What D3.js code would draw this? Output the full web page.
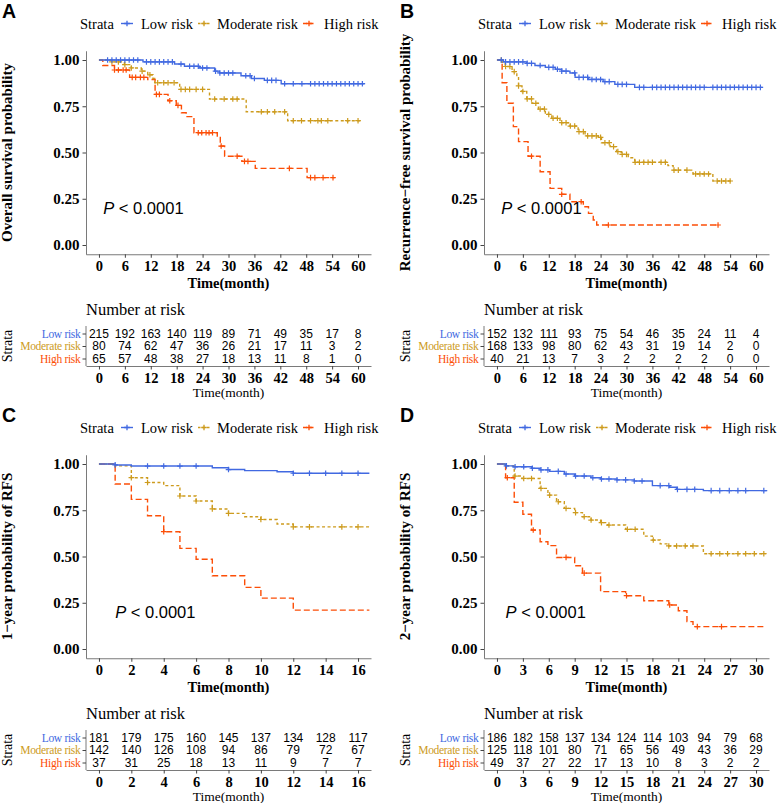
<!DOCTYPE html>
<html><head><meta charset="utf-8">
<script src="https://cdn.jsdelivr.net/npm/d3@7"></script>
<style>body{margin:0;background:#fff}svg{display:block}</style>
</head><body><svg id="c" width="777" height="803"></svg>
<script>
// ---------- DATA ----------
const strata = ["Low risk", "Moderate risk", "High risk"];
const panelLetters = ["A", "B", "C", "D"];
const yTitles = ["Overall survival probability", "Recurrence\u2212free survival probability",
                 "1\u2212year probability of RFS", "2\u2212year probability of RFS"];
const pText = "< 0.0001";
const yTicks = [0, 0.25, 0.5, 0.75, 1];

const ticksA = [0, 6, 12, 18, 24, 30, 36, 42, 48, 54, 60];
const ticksB = [0, 6, 12, 18, 24, 30, 36, 42, 48, 54, 60];
const ticksC = [0, 2, 4, 6, 8, 10, 12, 14, 16];
const ticksD = [0, 3, 6, 9, 12, 15, 18, 21, 24, 27, 30];

// Number at risk
const riskA_low = [215, 192, 163, 140, 119, 89, 71, 49, 35, 17, 8];
const riskA_mod = [80, 74, 62, 47, 36, 26, 21, 17, 11, 3, 2];
const riskA_high = [65, 57, 48, 38, 27, 18, 13, 11, 8, 1, 0];
const riskB_low = [152, 132, 111, 93, 75, 54, 46, 35, 24, 11, 4];
const riskB_mod = [168, 133, 98, 80, 62, 43, 31, 19, 14, 2, 0];
const riskB_high = [40, 21, 13, 7, 3, 2, 2, 2, 2, 0, 0];
const riskC_low = [181, 179, 175, 160, 145, 137, 134, 128, 117];
const riskC_mod = [142, 140, 126, 108, 94, 86, 79, 72, 67];
const riskC_high = [37, 31, 25, 18, 13, 11, 9, 7, 7];
const riskD_low = [186, 182, 158, 137, 134, 124, 114, 103, 94, 79, 68];
const riskD_mod = [125, 118, 101, 80, 71, 65, 56, 49, 43, 36, 29];
const riskD_high = [49, 37, 27, 22, 17, 13, 10, 8, 3, 2, 2];

// Kaplan-Meier steps [time, survival]
const survA_low = [[0,1],[10.2,0.99],[17.5,0.978],[19.8,0.966],[23.2,0.957],[26.8,0.94],[27.9,0.93],[32.9,0.915],[35.3,0.90],[38.3,0.89],[42.2,0.872],[61.5,0.872]];
const survA_mod = [[0,1],[2.9,0.99],[5.9,0.975],[7.5,0.957],[9.8,0.94],[11.3,0.92],[12.5,0.90],[12.9,0.877],[18.7,0.841],[25.6,0.789],[34.1,0.72],[43.7,0.672],[60.7,0.672]];
const survA_high = [[0,1],[0.9,0.97],[3.6,0.946],[7.1,0.906],[11.3,0.895],[13.0,0.814],[16.0,0.78],[17.9,0.755],[19.1,0.715],[20.2,0.694],[22.0,0.607],[27.4,0.582],[28.1,0.535],[29.1,0.48],[33.1,0.452],[36.2,0.414],[48.2,0.364],[54.6,0.364]];
const survB_low = [[0,1],[1.5,0.99],[6.9,0.982],[8.8,0.97],[11.2,0.96],[13.5,0.95],[15,0.94],[16.9,0.93],[18.1,0.906],[21.2,0.895],[24.6,0.883],[27.3,0.868],[31.9,0.852],[61.5,0.852]];
const survB_mod = [[0,1],[1.2,0.987],[1.9,0.965],[3.5,0.937],[4.6,0.91],[5.0,0.86],[5.8,0.83],[6.9,0.79],[8.1,0.766],[9.6,0.735],[11.2,0.706],[12.7,0.685],[14.6,0.661],[16.9,0.643],[18.8,0.613],[20.4,0.59],[23.5,0.582],[24.2,0.553],[26.2,0.532],[27.7,0.505],[28.8,0.49],[30.4,0.472],[31.9,0.447],[39.6,0.429],[40.8,0.405],[45.4,0.384],[50,0.346],[54.2,0.346]];
const survB_high = [[0,1],[1.2,0.877],[2.3,0.766],[3.8,0.64],[5,0.559],[7.2,0.48],[10,0.396],[12.3,0.306],[15,0.274],[16.9,0.234],[20,0.207],[21.2,0.171],[22.3,0.135],[23.1,0.108],[51.2,0.108]];
const survC_low = [[0,1],[1,0.995],[2,0.989],[7,0.98],[8,0.97],[9,0.964],[11,0.958],[12,0.95],[16.7,0.95]];
const survC_mod = [[0,1],[1,0.99],[2,0.926],[3,0.9],[4,0.883],[5,0.827],[6,0.8],[7,0.757],[8,0.733],[9,0.715],[10,0.7],[11,0.676],[12,0.66],[16.7,0.66]];
const survC_high = [[0,1],[1,0.892],[2,0.809],[3,0.72],[4,0.634],[5,0.544],[6,0.485],[7,0.396],[9,0.333],[10,0.275],[12,0.21],[16.7,0.21]];
const survD_low = [[0,1],[1,0.99],[1.9,0.985],[4,0.977],[5,0.968],[6.1,0.96],[7.8,0.946],[9,0.935],[10.9,0.926],[12,0.919],[13.9,0.914],[15.9,0.908],[18,0.883],[20,0.874],[20.8,0.863],[23.9,0.856],[31.3,0.856]];
const survD_mod = [[0,1],[1,0.99],[2,0.935],[2.9,0.922],[5,0.868],[5.9,0.832],[6.9,0.796],[7.8,0.76],[9,0.737],[9.9,0.715],[10.9,0.697],[12,0.683],[12.8,0.67],[14.9,0.647],[17,0.61],[18,0.589],[18.9,0.568],[19.9,0.557],[23.9,0.515],[31.1,0.515]];
const survD_high = [[0,1],[1,0.926],[2,0.793],[3,0.728],[4,0.643],[5,0.58],[5.9,0.559],[6.9,0.495],[9,0.45],[9.9,0.41],[12,0.31],[14.9,0.288],[17,0.261],[19.9,0.238],[21,0.207],[22,0.148],[22.7,0.121],[31.1,0.121]];

// censoring times
const censA_low = [2,3,4,5,6,7,8,9,11,12,13,14,15,16,17,19,21,22,23,24,25,27,28,29,30,31,34,35,36,39,40,41,43,45,47,49,50,51,52,53,54,55,56,57,58,59,60,61];
const censA_mod = [3,4.5,6,7.5,10,11.8,13.6,15,16,17.4,19,20,21,22.5,24,26.8,29,31,32,37.6,39,40.7,43,45,46.9,49,50.7,51.5,53,57.6,60];
const censA_high = [3.6,4.5,5.6,6.3,7.7,8.5,9.6,10.4,13.3,14,16.4,18.3,23,23.8,24.8,25.5,26.3,28.3,32,33.7,34.5,44.1,49,50,51.9,54.2];
const censB_low = [1,2,3,4,5,6,7,8,10,12,13,14,15,16,18,19,20,21,22,23,24,25,26,28,29,30,33,34,36,37,38,39,40,41,42,43,44,45,46,47,48,50,51,52,53,54,55,56,57,58,59,60,61];
const censB_mod = [1,2,3,4,5,6,7,8,9,10,11,12,13,14,15,16,17,18,19,20,21,22,23,24,25,26,27,28,29,30,32,33,34,35,36,38,39,41,42,44,46,47,48,49,51,52,53,54];
const censB_high = [8,15,19.5,25.8,51.2];
const censC_low = [1,3,4,5,6,8,12,13,14,15,16];
const censC_mod = [2,3,5,6,7,8,10,12,13,15,16];
const censC_high = [4];
const censD_low = [1.1,2.1,3.1,4.1,5.1,5.9,7.1,8,9.1,10.1,11.1,12.1,12.97,13.9,14.9,15.9,16.8,18.9,19.9,20.9,22,22.9,24.8,25.8,26.9,27.9,28.8,30.9];
const censD_mod = [2.1,3.1,4,5.1,6.1,7.1,8,9.1,10.1,10.9,12.1,12.97,15.1,16,18.1,19.9,20.8,21.8,22.7,24.8,25.8,26.7,27.9,28.8,29.8,30.9];
const censD_high = [1.2,4.2,8,10.1,15,20,23.2,26];

// ---------- STYLE ----------
const colors = ["#4169E1", "#CD9B1D", "#FC4E07"];
const dashes = [null, "3,2.5", "6,3"];
const SERIF = "'Liberation Serif','Times New Roman',serif";
const SANS = "'Liberation Sans',Arial,sans-serif";
const AXC = "#7a7a7a";

const panels = [
  {ox: 0,   oy: 0,   tmax: 60, ticks: ticksA, surv: [survA_low, survA_mod, survA_high], cens: [censA_low, censA_mod, censA_high], risk: [riskA_low, riskA_mod, riskA_high]},
  {ox: 398, oy: 0,   tmax: 60, ticks: ticksB, surv: [survB_low, survB_mod, survB_high], cens: [censB_low, censB_mod, censB_high], risk: [riskB_low, riskB_mod, riskB_high]},
  {ox: 0,   oy: 404, tmax: 16, ticks: ticksC, surv: [survC_low, survC_mod, survC_high], cens: [censC_low, censC_mod, censC_high], risk: [riskC_low, riskC_mod, riskC_high]},
  {ox: 398, oy: 404, tmax: 30, ticks: ticksD, surv: [survD_low, survD_mod, survD_high], cens: [censD_low, censD_mod, censD_high], risk: [riskD_low, riskD_mod, riskD_high]}
];

const svg = d3.select("#c");
svg.append("rect").attr("width", 777).attr("height", 803).attr("fill", "#fff");

function stepValue(curve, t) {
  let v = curve[0][1];
  for (const [ti, si] of curve) { if (ti <= t) v = si; else break; }
  return v;
}
const plusPath = "M-2.8,0H2.8M0,-2.8V2.8";

function styleAxis(sel, fontFam, size, weight) {
  sel.select(".domain").attr("stroke", AXC).attr("stroke-width", 1);
  sel.selectAll(".tick line").attr("stroke", "#444").attr("stroke-width", 1);
  sel.selectAll(".tick text").attr("font-family", fontFam).attr("font-size", size)
     .attr("font-weight", weight).attr("fill", "#000");
}

panels.forEach((p, pi) => {
  const g = svg.append("g").attr("transform", `translate(${p.ox},${p.oy})`);
  const x = d3.scaleLinear().domain([-0.05 * p.tmax, 1.05 * p.tmax]).range([86, 371]);
  const y = d3.scaleLinear().domain([-0.05, 1.05]).range([254.25, 50.75]);

  // panel letter
  g.append("text").attr("x", 2).attr("y", 18).text(panelLetters[pi])
    .attr("font-family", SANS).attr("font-weight", "bold").attr("font-size", 19.5);

  // legend
  const ly = 23.5;
  g.append("text").attr("x", 80).attr("y", ly).attr("dy", "0.35em").text("Strata")
    .attr("font-family", SERIF).attr("font-size", 14.5);
  const keyX = [121, 198, 303];
  const labX = [141, 217, 324];
  strata.forEach((s, i) => {
    g.append("line").attr("x1", keyX[i]).attr("x2", keyX[i] + 12).attr("y1", ly).attr("y2", ly)
      .attr("stroke", colors[i]).attr("stroke-width", 1.4).attr("stroke-dasharray", i === 0 ? null : (i === 1 ? "2.5,2" : "4,2.5"));
    g.append("path").attr("d", plusPath).attr("transform", `translate(${keyX[i] + 6},${ly})`)
      .attr("stroke", colors[i]).attr("stroke-width", 1.3);
    g.append("text").attr("x", labX[i]).attr("y", ly).attr("dy", "0.35em").text(s)
      .attr("font-family", SERIF).attr("font-size", 14.5);
  });

  // axes
  const ya = g.append("g").attr("transform", "translate(86,0)")
    .call(d3.axisLeft(y).tickValues(yTicks).tickFormat(d3.format(".2f")).tickSize(3.5).tickSizeOuter(0).tickPadding(3));
  styleAxis(ya, SERIF, 15, "bold");
  const xa = g.append("g").attr("transform", "translate(0,254.25)")
    .call(d3.axisBottom(x).tickValues(p.ticks).tickSize(3.5).tickSizeOuter(0).tickPadding(3));
  styleAxis(xa, SERIF, 14.5, "bold");

  g.append("text").attr("x", 228.5).attr("y", 288).attr("text-anchor", "middle").text("Time(month)")
    .attr("font-family", SERIF).attr("font-weight", "bold").attr("font-size", 14.5);
  g.append("text").attr("transform", `translate(7,152.5) rotate(-90)`).attr("text-anchor", "middle")
    .attr("dy", "0.35em").text(yTitles[pi])
    .attr("font-family", SERIF).attr("font-weight", "bold").attr("font-size", 15);

  // curves
  const line = d3.line().x(d => x(d[0])).y(d => y(d[1])).curve(d3.curveStepAfter);
  [2, 1, 0].forEach(i => {
    g.append("path").datum(p.surv[i]).attr("d", line).attr("fill", "none")
      .attr("stroke", colors[i]).attr("stroke-width", 1.4).attr("stroke-dasharray", dashes[i]);
    g.selectAll(null).data(p.cens[i]).enter().append("path").attr("d", plusPath)
      .attr("transform", t => `translate(${x(t)},${y(stepValue(p.surv[i], t))})`)
      .attr("stroke", colors[i]).attr("stroke-width", 1.2).attr("fill", "none");
  });

  // p value
  const pt = g.append("text").attr("x", x(1)).attr("y", y(0.2)).attr("dy", "0.36em")
    .attr("font-family", SANS).attr("font-size", 16.5);
  pt.append("tspan").attr("font-style", "italic").text("P");
  pt.append("tspan").text(" " + pText);

  // risk table
  g.append("text").attr("x", 86).attr("y", 314.5).text("Number at risk")
    .attr("font-family", SERIF).attr("font-size", 16.5);
  const ry = d3.scalePoint().domain(strata).range([326, 366]).padding(0.6);
  const rya = g.append("g").attr("transform", "translate(86,0)")
    .call(d3.axisLeft(ry).tickSize(3.5).tickSizeOuter(0).tickPadding(2));
  styleAxis(rya, SERIF, 11.5, "normal");
  rya.selectAll(".tick text").attr("fill", (d, i) => colors[i]).attr("letter-spacing", "-0.3px");
  const rxa = g.append("g").attr("transform", "translate(0,366)")
    .call(d3.axisBottom(x).tickValues(p.ticks).tickSize(3.5).tickSizeOuter(0).tickPadding(3));
  styleAxis(rxa, SERIF, 14.5, "bold");
  rya.select(".domain").attr("d", "M0,326V366");
  strata.forEach((s, i) => {
    g.selectAll(null).data(p.risk[i]).enter().append("text")
      .attr("x", (d, j) => x(p.ticks[j])).attr("y", ry(s)).attr("dy", "0.36em")
      .attr("text-anchor", "middle").text(d => d)
      .attr("font-family", SANS).attr("font-size", 12);
  });
  g.append("text").attr("x", 228.5).attr("y", 396.5).attr("text-anchor", "middle").text("Time(month)")
    .attr("font-family", SERIF).attr("font-size", 13.5);
  g.append("text").attr("transform", `translate(7,346) rotate(-90)`).attr("text-anchor", "middle")
    .attr("dy", "0.35em").text("Strata").attr("font-family", SERIF).attr("font-size", 14);
});
</script>
</body></html>
